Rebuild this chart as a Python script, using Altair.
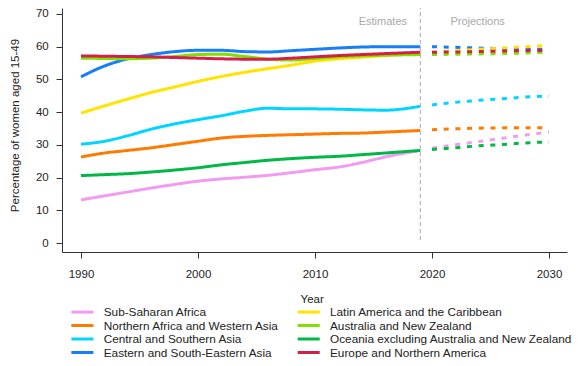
import altair as alt
import pandas as pd

# Legend order (filled column by column in a 2-column legend)
regions = [
    "Sub-Saharan Africa",
    "Northern Africa and Western Asia",
    "Central and Southern Asia",
    "Eastern and South-Eastern Asia",
    "Latin America and the Caribbean",
    "Australia and New Zealand",
    "Oceania excluding Australia and New Zealand",
    "Europe and Northern America",
]
colors = ["#F09CF0", "#FF7A00", "#00D5FF", "#157EF8",
          "#FFE400", "#80E000", "#00B846", "#D41F4B"]

est_years = [1990, 1992, 1994, 1996, 1998, 2000, 2002, 2004, 2006, 2008,
             2010, 2012, 2014, 2016, 2019]
proj_years = [2020, 2022, 2024, 2026, 2028, 2030]

est = {
    "Sub-Saharan Africa": [13.2, 14.4, 15.6, 16.8, 17.9, 18.9, 19.6, 20.1, 20.7, 21.5, 22.4, 23.2, 24.6, 26.3, 28.3],
    "Northern Africa and Western Asia": [26.3, 27.5, 28.3, 29.1, 30.1, 31.1, 32.1, 32.6, 32.9, 33.1, 33.3, 33.5, 33.6, 33.9, 34.4],
    "Central and Southern Asia": [30.2, 31.1, 32.8, 34.8, 36.4, 37.7, 38.9, 40.3, 41.2, 41.0, 41.0, 40.9, 40.7, 40.6, 41.8],
    "Eastern and South-Eastern Asia": [50.8, 54.1, 56.3, 57.6, 58.5, 58.9, 58.9, 58.5, 58.4, 58.8, 59.2, 59.6, 59.9, 60.0, 60.0],
    "Latin America and the Caribbean": [39.7, 41.9, 44.0, 46.0, 47.7, 49.4, 50.9, 52.2, 53.3, 54.4, 55.6, 56.3, 56.8, 57.3, 58.1],
    "Australia and New Zealand": [56.5, 56.4, 56.3, 56.5, 57.0, 57.6, 57.7, 57.0, 56.2, 55.9, 56.4, 56.9, 57.2, 57.4, 57.6],
    "Oceania excluding Australia and New Zealand": [20.6, 20.9, 21.2, 21.7, 22.3, 23.0, 23.9, 24.6, 25.3, 25.8, 26.2, 26.5, 27.0, 27.5, 28.3],
    "Europe and Northern America": [57.2, 57.1, 57.0, 56.9, 56.7, 56.5, 56.3, 56.2, 56.2, 56.5, 56.9, 57.3, 57.6, 57.9, 58.3],
}
proj = {
    "Sub-Saharan Africa": [29.0, 30.0, 31.0, 32.0, 33.0, 33.9],
    "Northern Africa and Western Asia": [34.6, 34.9, 35.1, 35.2, 35.2, 35.2],
    "Central and Southern Asia": [42.2, 43.0, 43.6, 44.1, 44.6, 44.9],
    "Eastern and South-Eastern Asia": [60.0, 59.8, 59.6, 59.4, 59.2, 59.2],
    "Latin America and the Caribbean": [58.4, 58.8, 59.2, 59.6, 60.0, 60.4],
    "Australia and New Zealand": [57.6, 57.7, 57.8, 57.9, 58.1, 58.3],
    "Oceania excluding Australia and New Zealand": [28.6, 29.1, 29.7, 30.1, 30.6, 30.9],
    "Europe and Northern America": [58.3, 58.4, 58.5, 58.7, 58.8, 58.9],
}

phase_labels = ["Estimates", "Projections"]
phase_label_years = [2015.8, 2023.9]
phase_label_y = [67.6, 67.6]
divider_year = [2019]

x_ticks = [1990, 2000, 2010, 2020, 2030]
y_ticks = [0, 10, 20, 30, 40, 50, 60, 70]

rows = []
for r in regions:
    for yr, v in zip(est_years, est[r]):
        rows.append({"region": r, "year": yr, "value": v, "phase": "Estimates"})
    for yr, v in zip(proj_years, proj[r]):
        rows.append({"region": r, "year": yr, "value": v, "phase": "Projections"})
df = pd.DataFrame(rows)

FONT = "Liberation Sans"
Y_TOP = 71.834

x_enc = alt.X(
    "year:Q",
    title="Year",
    scale=alt.Scale(domain=[1988.376, 2031.538], nice=False, zero=False),
    axis=alt.Axis(values=x_ticks, format="d", grid=False, tickSize=6,
                  labelPadding=10.3, labelFontSize=11.5, labelFont=FONT,
                  labelColor="#222222", titleFont=FONT, titleFontSize=11.5,
                  titleFontWeight="normal", titleColor="#222222",
                  titleX=249.7, titleY=47.5, titleBaseline="middle",
                  titleAlign="center", domainColor="#333333",
                  tickColor="#333333", labelFlush=False),
)
y_enc = alt.Y(
    "value:Q",
    title="Percentage of women aged 15-49",
    scale=alt.Scale(domain=[-2.751, Y_TOP], nice=False, zero=False),
    axis=alt.Axis(values=y_ticks, grid=False, tickSize=6, labelPadding=7.8,
                  labelFontSize=11.5, labelFont=FONT, labelColor="#222222",
                  titleFont=FONT, titleFontSize=11.5, titleFontWeight="normal",
                  titleColor="#222222", titleX=-46.5, titleY=117,
                  titleBaseline="middle", titleAlign="center",
                  domainColor="#333333", tickColor="#333333", labelFlush=False),
)

lines = alt.Chart(df).mark_line(strokeWidth=3, interpolate="monotone").encode(
    x=x_enc,
    y=y_enc,
    color=alt.Color(
        "region:N",
        scale=alt.Scale(domain=regions, range=colors),
        sort=regions,
        legend=alt.Legend(
            title=None, orient="none", legendX=9.4, legendY=298.0,
            columns=2, columnPadding=11.3, rowPadding=0.5, padding=0,
            symbolType="M-2.45,0H2.45", symbolSize=81, symbolStrokeWidth=3,
            symbolOffset=5, labelOffset=15.3, labelFontSize=11.8,
            labelFont=FONT, labelColor="#222222", labelLimit=400,
        ),
    ),
    strokeDash=alt.StrokeDash(
        "phase:N",
        scale=alt.Scale(domain=phase_labels, range=[[1, 0], [5, 6.7]]),
        legend=None,
    ),
    detail="phase:N",
)

divider_df = pd.DataFrame({"year": divider_year, "value": [0.9], "value2": [Y_TOP]})
divider = alt.Chart(divider_df).mark_rule(
    color="#A8A8A8", strokeWidth=1, strokeDash=[4, 3]
).encode(x=x_enc, y=y_enc, y2="value2:Q")

text_df = pd.DataFrame({"label": phase_labels, "year": phase_label_years, "value": phase_label_y})
texts = alt.Chart(text_df).mark_text(
    font=FONT, fontSize=11, color="#A8A8A8", align="center", baseline="middle"
).encode(x=x_enc, y=y_enc, text="label:N")

chart = alt.layer(lines, divider, texts).properties(
    width=505,
    height=244,
    padding={"left": 54, "top": 0, "right": 4, "bottom": 106},
    autosize=alt.AutoSizeParams(type="none"),
).configure_view(stroke=None)

chart.save("out.html", embed_options={"renderer": "svg", "actions": False})
